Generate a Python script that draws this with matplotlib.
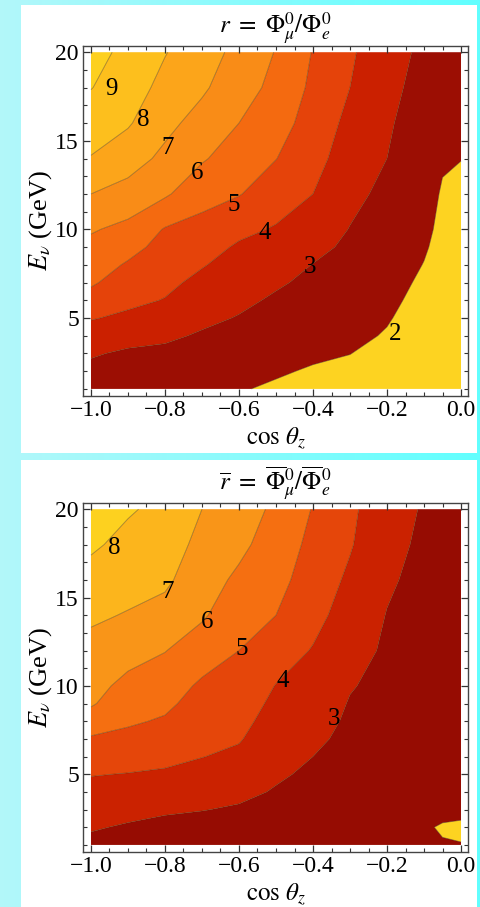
import numpy as np
import matplotlib
matplotlib.use("Agg")
import matplotlib.pyplot as plt
from matplotlib.ticker import MultipleLocator
from matplotlib.patches import Rectangle

plt.rcParams['font.family'] = 'Liberation Serif'
plt.rcParams['mathtext.fontset'] = 'stix'

# grid: cos(theta_z) columns x energy rows
cos_z = [-1.0, -0.9, -0.8, -0.7, -0.6, -0.5, -0.4, -0.3, -0.2, -0.1, -0.05, 0.0]
e_nu = [1, 2, 3, 4, 5, 6, 7, 8, 9, 10, 12, 14, 16, 18, 20]

# r = Phi_mu / Phi_e  (one list per cos value, along e_nu)
r_nu = [
    [2.5, 2.75, 3.1, 3.57, 4.06, 4.65, 5.12, 5.44, 5.75, 6.09, 7.0, 7.95, 8.5, 9.03, 9.2],
    [2.4, 2.6, 2.85, 3.36, 3.82, 4.21, 4.55, 4.9, 5.3, 5.74, 6.64, 7.43, 8.1, 8.5, 8.85],
    [2.3, 2.5, 2.8, 3.16, 3.56, 3.96, 4.21, 4.45, 4.69, 4.93, 6.13, 6.77, 7.27, 7.69, 8.05],
    [2.25, 2.45, 2.65, 2.9, 3.2, 3.49, 3.77, 4.06, 4.36, 4.67, 5.36, 6.1, 6.63, 7.15, 7.4],
    [2.05, 2.3, 2.5, 2.75, 2.95, 3.19, 3.42, 3.65, 3.88, 4.22, 5.05, 5.52, 6.0, 6.4, 6.75],
    [1.9, 2.08, 2.28, 2.48, 2.68, 2.88, 3.11, 3.38, 3.65, 3.92, 4.47, 5.02, 5.4, 5.75, 5.95],
    [1.75, 1.93, 2.12, 2.29, 2.47, 2.64, 2.81, 2.98, 3.23, 3.49, 4.0, 4.35, 4.6, 4.8, 4.95],
    [1.6, 1.85, 2.01, 2.15, 2.29, 2.42, 2.56, 2.7, 2.84, 2.97, 3.23, 3.49, 3.74, 4.0, 4.15],
    [1.4, 1.6, 1.8, 1.95, 2.05, 2.15, 2.26, 2.36, 2.47, 2.58, 2.79, 3.0, 3.1, 3.2, 3.3],
    [1.3, 1.45, 1.55, 1.65, 1.73, 1.8, 1.88, 1.98, 2.07, 2.15, 2.3, 2.45, 2.6, 2.75, 2.85],
    [1.25, 1.35, 1.45, 1.52, 1.58, 1.64, 1.7, 1.76, 1.8, 1.85, 1.93, 2.08, 2.25, 2.4, 2.5],
    [1.2, 1.3, 1.38, 1.45, 1.5, 1.55, 1.6, 1.65, 1.7, 1.75, 1.87, 2.01, 2.15, 2.3, 2.4],
]

# rbar = Phibar_mu / Phibar_e
r_nubar = [
    [2.75, 3.09, 3.4, 3.72, 4.04, 4.46, 4.88, 5.58, 6.1, 6.3, 6.71, 7.15, 7.65, 8.15, 8.45],
    [2.5, 2.9, 3.28, 3.62, 3.97, 4.36, 4.76, 5.12, 5.44, 5.75, 6.35, 6.94, 7.35, 7.73, 8.1],
    [2.4, 2.75, 3.12, 3.5, 3.88, 4.23, 4.57, 4.9, 5.19, 5.47, 6.03, 6.66, 7.18, 7.5, 7.75],
    [2.35, 2.65, 3.03, 3.37, 3.7, 4.02, 4.22, 4.43, 4.63, 4.84, 5.5, 6.12, 6.41, 6.71, 7.0],
    [2.3, 2.6, 2.9, 3.21, 3.52, 3.82, 4.07, 4.26, 4.44, 4.63, 5.0, 5.41, 5.82, 6.22, 6.5],
    [2.28, 2.5, 2.72, 2.93, 3.12, 3.29, 3.46, 3.63, 3.8, 3.97, 4.47, 5.0, 5.3, 5.55, 5.8],
    [2.2, 2.35, 2.55, 2.7, 2.85, 3.0, 3.16, 3.31, 3.47, 3.62, 3.94, 4.3, 4.55, 4.75, 4.95],
    [2.15, 2.25, 2.4, 2.52, 2.62, 2.72, 2.8, 2.88, 2.95, 3.05, 3.31, 3.57, 3.83, 4.08, 4.2],
    [2.1, 2.15, 2.25, 2.35, 2.45, 2.53, 2.6, 2.67, 2.73, 2.79, 2.88, 2.97, 3.12, 3.25, 3.35],
    [2.06, 2.05, 2.15, 2.22, 2.3, 2.36, 2.42, 2.47, 2.52, 2.56, 2.62, 2.68, 2.75, 2.85, 2.93],
    [2.03, 1.96, 2.12, 2.2, 2.26, 2.31, 2.36, 2.4, 2.44, 2.48, 2.54, 2.6, 2.66, 2.74, 2.8],
    [2.02, 1.9, 2.15, 2.2, 2.24, 2.28, 2.32, 2.36, 2.4, 2.43, 2.49, 2.55, 2.6, 2.67, 2.72],
]

levels_nu = [0, 2, 3, 4, 5, 6, 7, 8, 9, 12]
levels_nubar = [0, 2, 3, 4, 5, 6, 7, 8, 12]
colors_nu = ['#FDD321', '#9C0E03', '#CB2000', '#E5430A', '#F46A10',
             '#F98C17', '#FCA51A', '#FDBF1D', '#FDD01F']
colors_nubar = ['#FDD321', '#960C02', '#CB2200', '#E5460A', '#F56F11',
                '#F99518', '#FCB51C', '#FDD11F']

# contour label text and where it sits
labels_nu = [("9", -0.945, 17.9), ("8", -0.859, 16.2), ("7", -0.792, 14.6),
             ("6", -0.713, 13.2), ("5", -0.613, 11.4), ("4", -0.530, 9.8),
             ("3", -0.408, 7.9), ("2", -0.177, 4.1)]
labels_nubar = [("8", -0.936, 17.8), ("7", -0.794, 15.3), ("6", -0.685, 13.6),
                ("5", -0.592, 12.1), ("4", -0.482, 10.3), ("3", -0.343, 8.1)]


def panel(ax, z, levels, colors, labels, title):
    X, Y = np.meshgrid(cos_z, e_nu)
    Z = np.array(z).T
    ax.contourf(X, Y, Z, levels=levels, colors=colors, antialiased=True)
    ax.contour(X, Y, Z, levels=levels[1:-1], colors='#4a3008',
               linewidths=0.6, alpha=0.5)
    for txt, x, y in labels:
        ax.text(x, y, txt, fontsize=18, ha='center', va='center', color='black')
    ax.set_xlim(-1.0216, 0.0189)
    ax.set_ylim(0.6, 20.35)
    ax.xaxis.set_major_locator(MultipleLocator(0.2))
    ax.xaxis.set_minor_locator(MultipleLocator(0.05))
    ax.yaxis.set_major_locator(MultipleLocator(5))
    ax.yaxis.set_minor_locator(MultipleLocator(1))
    ax.tick_params(which='both', direction='in', top=True, right=True,
                   labelsize=17, color='#333333', pad=3)
    ax.tick_params(which='major', length=5, width=0.9)
    ax.tick_params(which='minor', length=3, width=0.8)
    for s in ax.spines.values():
        s.set_color('#444444')
        s.set_linewidth(1.0)
    ax.set_xlabel(r'$\cos\,\theta_z$', fontsize=18, labelpad=3)
    ax.set_ylabel(r'$E_\nu$ (GeV)', fontsize=19, labelpad=1)
    ax.set_title(title, fontsize=18, pad=4)


fig = plt.figure(figsize=(4.81, 9.07), dpi=100)

# cyan gradient behind the two white cards
bg = fig.add_axes([0, 0, 1, 1])
grad = np.linspace(0, 1, 256)
c0 = np.array([0.70, 0.97, 0.98])
c1 = np.array([0.38, 1.0, 1.0])
img = c0[None, :] * (1 - grad[:, None]) + c1[None, :] * grad[:, None]
bg.imshow(img[None, :, :], extent=[0, 1, 0, 1], aspect='auto')
bg.add_patch(Rectangle((21 / 481, 1 - 453 / 907), 456 / 481, 448 / 907,
                       facecolor='white', edgecolor='none'))
bg.add_patch(Rectangle((21 / 481, 0), 456 / 481, 1 - 460 / 907,
                       facecolor='white', edgecolor='none'))
bg.set_xlim(0, 1)
bg.set_ylim(0, 1)
bg.axis('off')

ax1 = fig.add_axes([83 / 481, 1 - 396 / 907, 385 / 481, 350 / 907])
panel(ax1, r_nu, levels_nu, colors_nu, labels_nu,
      r'$r\ =\ \Phi^0_\mu/\Phi^0_e$')

ax2 = fig.add_axes([83 / 481, 1 - 852 / 907, 385 / 481, 349 / 907])
panel(ax2, r_nubar, levels_nubar, colors_nubar, labels_nubar,
      r'$\overline{r}\ =\ \overline{\Phi}^0_\mu/\overline{\Phi}^0_e$')

fig.savefig("out.png", dpi=100)
